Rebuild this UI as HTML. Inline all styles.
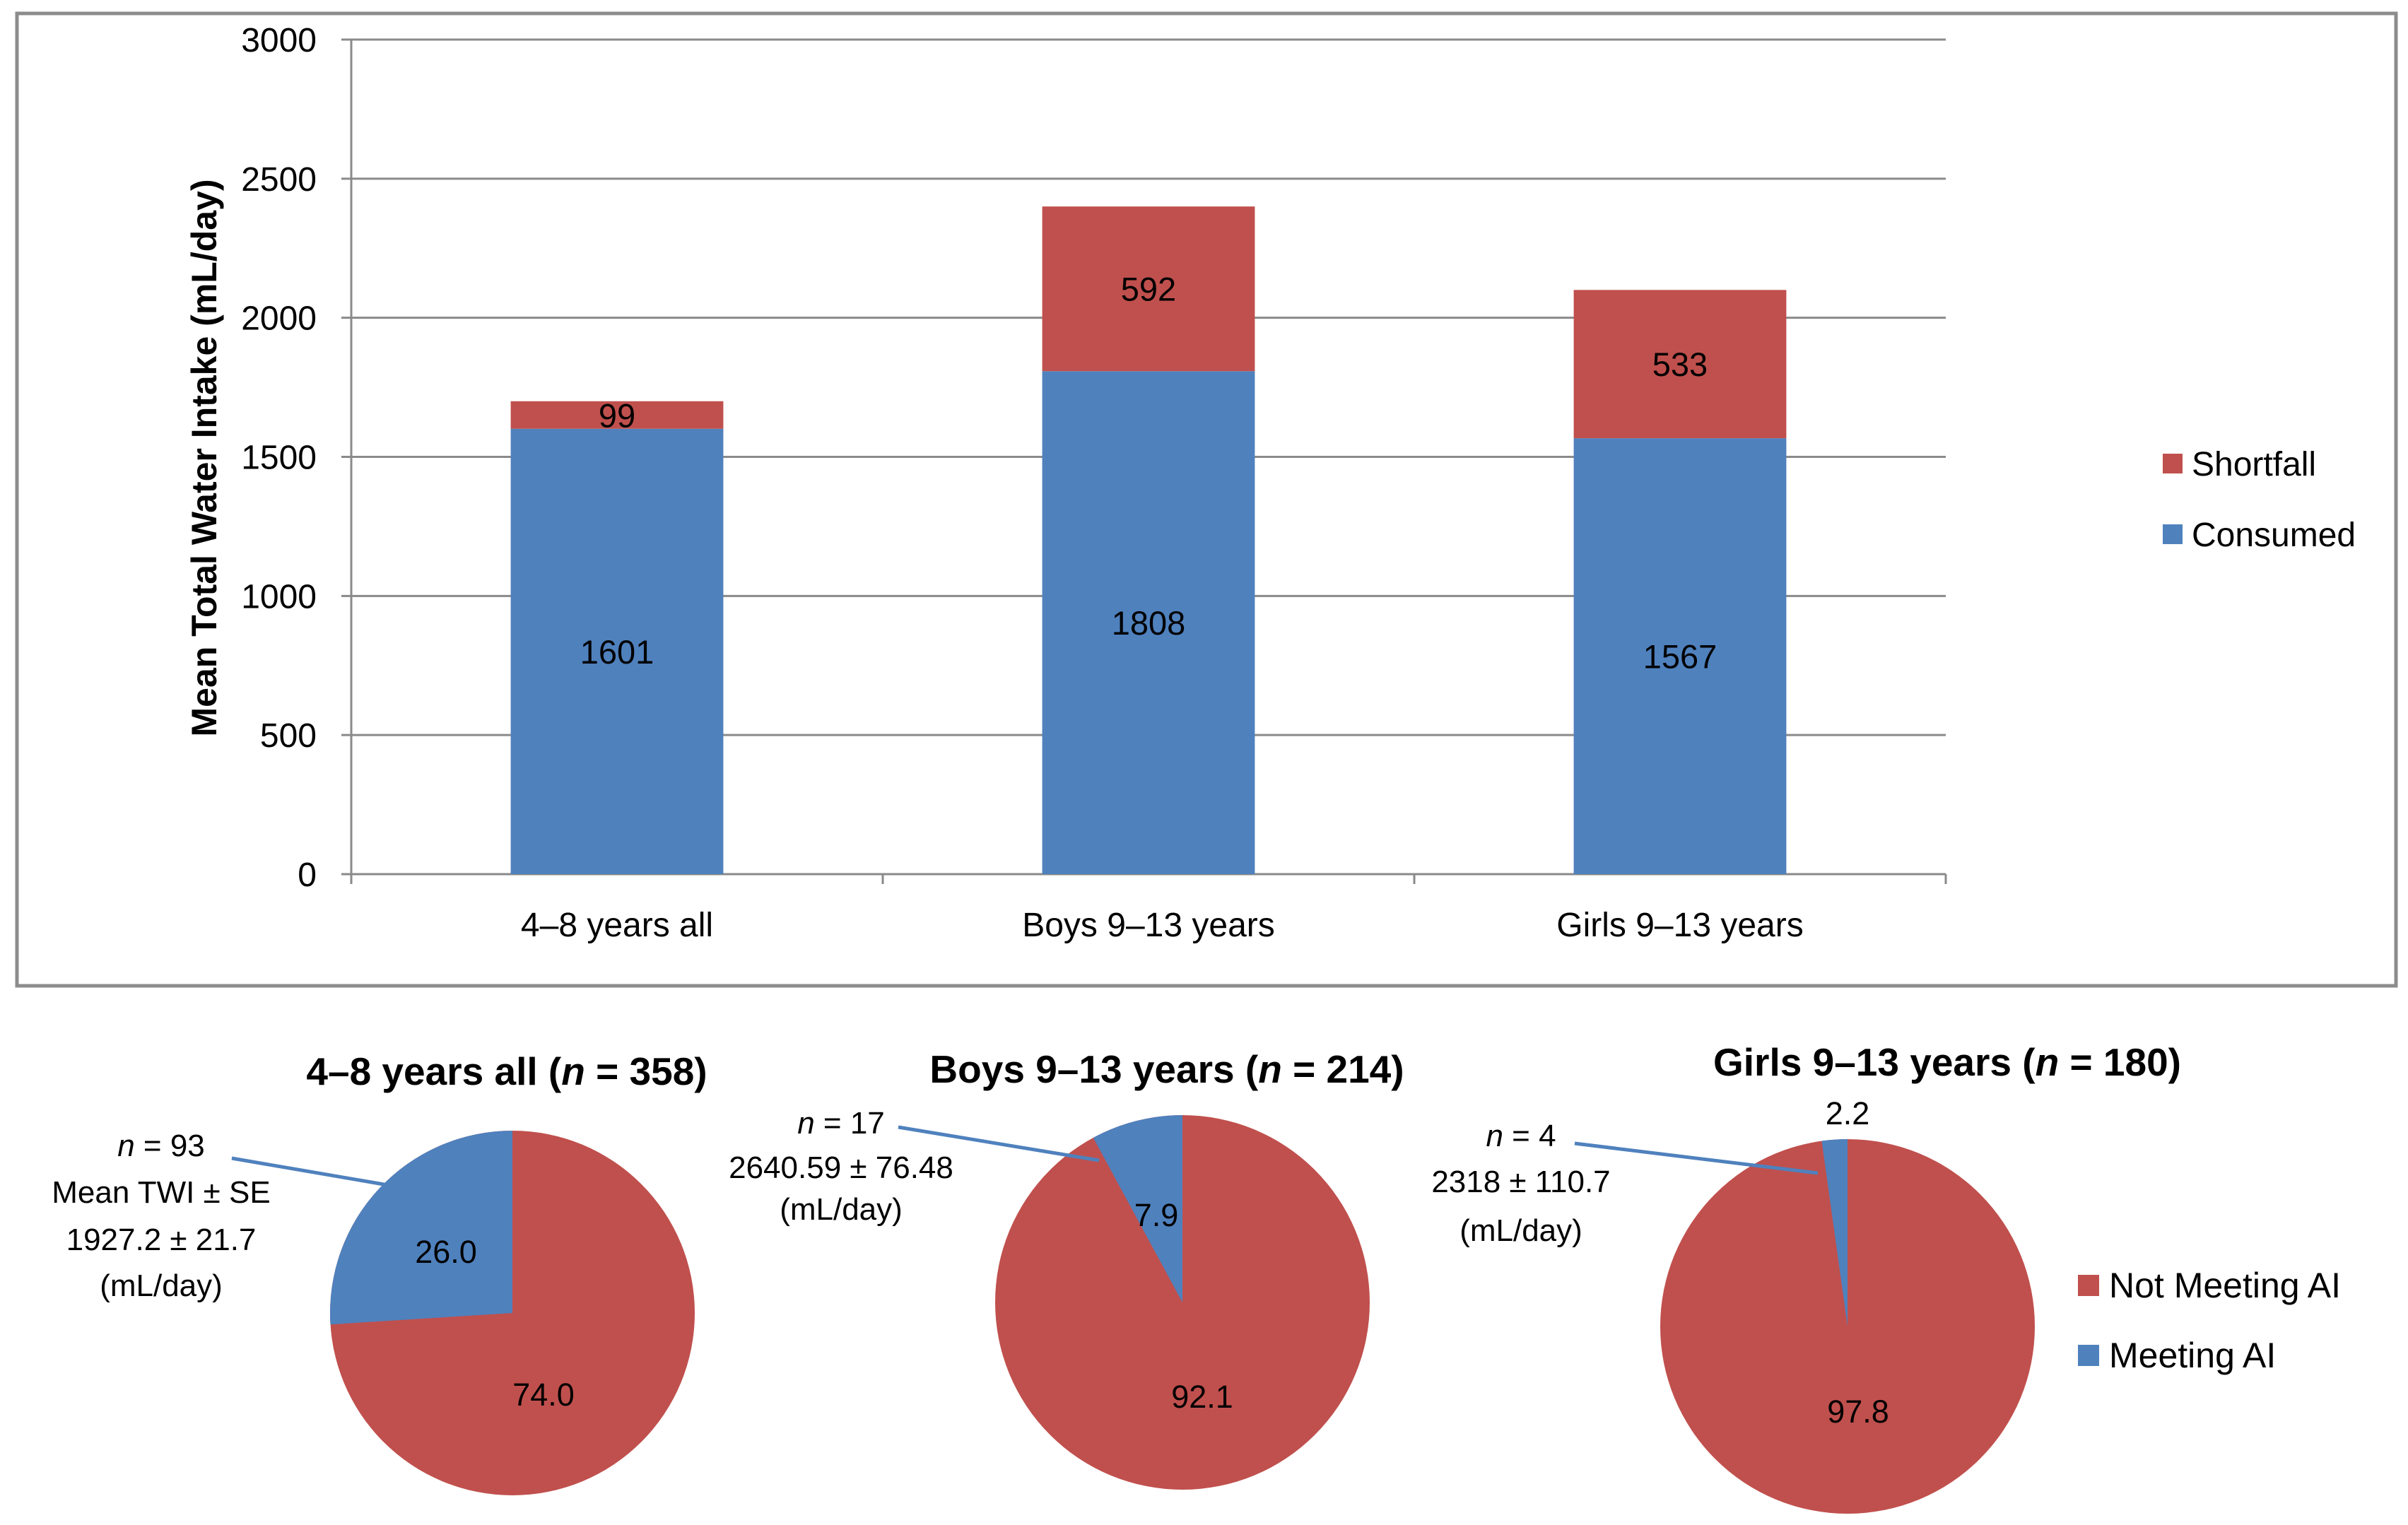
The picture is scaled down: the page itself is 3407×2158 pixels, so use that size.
<!DOCTYPE html>
<html><head><meta charset="utf-8"><style>
body{margin:0;background:#fff}
svg{display:block;font-family:"Liberation Sans",sans-serif}
</style></head><body>
<svg id="c" width="3407" height="2158" viewBox="0 0 3407 2158" xmlns="http://www.w3.org/2000/svg">
<rect x="24" y="19" width="3366" height="1376" fill="#fff" stroke="#8c8c8c" stroke-width="5"/>
<g id="bars"></g>
<g id="pies"></g>
</svg>
<script>
const categories=["4–8 years all","Boys 9–13 years","Girls 9–13 years"];
const consumed=[1601,1808,1567];
const shortfall=[99,592,533];
const yTicks=[0,500,1000,1500,2000,2500,3000];
const pieTitles=["4–8 years all","Boys 9–13 years","Girls 9–13 years"];
const pieN=[358,214,180];
const meeting=[26.0,7.9,2.2];
const notMeeting=[74.0,92.1,97.8];
const annotN=[93,17,4];
const annotTWI=["1927.2 ± 21.7","2640.59 ± 76.48","2318 ± 110.7"];

const NS="http://www.w3.org/2000/svg";
const BLUE="#4F81BD",RED="#C0504D";
function mk(p,t,a,txt){const e=document.createElementNS(NS,t);for(const k in a)e.setAttribute(k,a[k]);if(txt!==undefined)e.textContent=txt;p.appendChild(e);return e;}
const bars=document.getElementById('bars');
const X0=497,X1=2753,Y0=1237,Y3=56;
const y=v=>Y0-(v/3000)*(Y0-Y3);
const band=(X1-X0)/categories.length;
const xc=i=>X0+band*(i+0.5);
yTicks.forEach(t=>{
  const l=mk(bars,'line',{x1:X0-14,x2:X1,y1:y(t),y2:y(t),stroke:'#8a8a8a','stroke-width':3});
  
  
  const tx=mk(bars,'text',{x:448,y:y(t)+17,'text-anchor':'end','font-size':48,fill:'#000'},t);
  
  
});
mk(bars,'line',{x1:X0,x2:X0,y1:Y3,y2:Y0+14,stroke:'#8a8a8a','stroke-width':3});
for(let i=0;i<=categories.length;i++){mk(bars,'line',{x1:X0+band*i,x2:X0+band*i,y1:Y0,y2:Y0+14,stroke:'#8a8a8a','stroke-width':3});}
const yt=mk(bars,'text',{x:0,y:0,transform:'translate(306,648) rotate(-90)','text-anchor':'middle','font-size':50,'font-weight':'bold'},'Mean Total  Water Intake (mL/day)');


const bw=band*0.4;
categories.forEach((c,i)=>{
  const x=xc(i)-bw/2;
  const b=mk(bars,'rect',{x:x,y:y(consumed[i]),width:bw,height:Y0-y(consumed[i]),fill:BLUE});
  
  
  const top=consumed[i]+shortfall[i];
  const r=mk(bars,'rect',{x:x,y:y(top),width:bw,height:y(consumed[i])-y(top),fill:RED});
  
  
  const l1=mk(bars,'text',{x:xc(i),y:y(consumed[i]/2)+17,'text-anchor':'middle','font-size':47},consumed[i]);
  
  
  const l2=mk(bars,'text',{x:xc(i),y:y(consumed[i]+shortfall[i]/2)+17,'text-anchor':'middle','font-size':47},shortfall[i]);
  
  
  const cl=mk(bars,'text',{x:xc(i),y:1325,'text-anchor':'middle','font-size':48},c);
  
  
});
[[RED,'Shortfall',656],[BLUE,'Consumed',756]].forEach(([col,txt,yy])=>{
  const s=mk(bars,'rect',{x:3060,y:yy-14,width:28,height:28,fill:col});
  
  
  const t=mk(bars,'text',{x:3101,y:yy+17,'font-size':48},txt);
  
  
});

const pies=document.getElementById('pies');
const centers=[[725,1858,258],[1673,1843,265],[2614,1877,265]];
const titlePos=[[717,1515],[1651,1512],[2755,1502]];
// label offsets (layout only)
const mOff=[[-94,-87],[-37,-124],[0,-302]];
const nOff=[[44,115],[28,133],[15,120]];
const annot=[{x:228,ys:[1621,1687,1754,1819],line:[328,1639,607,1687],mean:true},
{x:1190,ys:[1589,1652,1711],line:[1271,1595,1555,1642]},
{x:2152,ys:[1607,1672,1741],line:[2228,1618,2572,1660]}];
const pt=(cx,cy,r,a)=>[cx+r*Math.sin(a),cy-r*Math.cos(a)];
pieTitles.forEach((tt,i)=>{
  const [cx,cy,r]=centers[i];
  const tot=meeting[i]+notMeeting[i];
  const am=meeting[i]/tot*2*Math.PI;
  const c=mk(pies,'circle',{cx:cx,cy:cy,r:r,fill:RED});
  
  
  const p=pt(cx,cy,r,-am);
  const s=mk(pies,'path',{d:`M${cx},${cy} L${cx},${cy-r} A${r},${r} 0 ${am>Math.PI?1:0} 0 ${p[0]},${p[1]} Z`,fill:BLUE});
  
  
  const t=mk(pies,'text',{x:titlePos[i][0],y:titlePos[i][1]+20,'text-anchor':'middle','font-size':55,'font-weight':'bold'});
  
  
  t.innerHTML=`${tt} (<tspan font-style="italic">n</tspan> = ${pieN[i]})`;
  const l1=mk(pies,'text',{x:cx+mOff[i][0],y:cy+mOff[i][1]+16,'text-anchor':'middle','font-size':45},meeting[i].toFixed(1));
  
  
  const l2=mk(pies,'text',{x:cx+nOff[i][0],y:cy+nOff[i][1]+16,'text-anchor':'middle','font-size':45},notMeeting[i].toFixed(1));
  
  
  const a=annot[i];
  const ln=mk(pies,'line',{x1:a.line[0],y1:a.line[1],x2:a.line[2],y2:a.line[3],stroke:BLUE,'stroke-width':5});
  
  
  const lines=a.mean?[null,'Mean TWI ± SE',annotTWI[i],'(mL/day)']:[null,annotTWI[i],'(mL/day)'];
  lines.forEach((s,k)=>{
    const e=mk(pies,'text',{x:a.x,y:a.ys[k]+15,'text-anchor':'middle','font-size':44});
    
    
    if(s===null)e.innerHTML=`<tspan font-style="italic">n</tspan> = ${annotN[i]}`;else e.textContent=s;
  });
});
[[RED,'Not Meeting AI',1819],[BLUE,'Meeting AI',1918]].forEach(([col,txt,yy])=>{
  const s=mk(pies,'rect',{x:2940,y:yy-15,width:30,height:30,fill:col});
  
  
  const t=mk(pies,'text',{x:2984,y:yy+17,'font-size':50},txt);
  
  
});
</script>
</body></html>
